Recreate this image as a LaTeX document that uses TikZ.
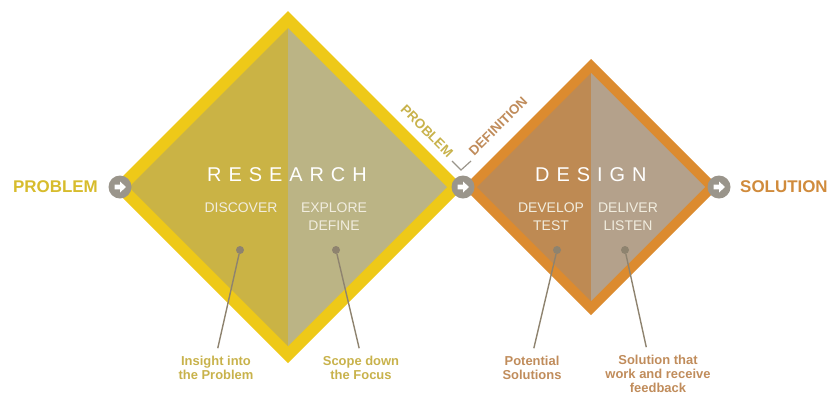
\documentclass[tikz,border=0pt]{standalone}
\usepackage{fontspec}
\setmainfont{Liberation Sans}
\usetikzlibrary{positioning}
\definecolor{resedge}{HTML}{EEC918}
\definecolor{resleft}{HTML}{CAB345}
\definecolor{resright}{HTML}{BBB485}
\definecolor{desedge}{HTML}{DC8B2F}
\definecolor{desleft}{HTML}{BE8A53}
\definecolor{desright}{HTML}{B4A18B}
\definecolor{btngray}{HTML}{9A958B}
\definecolor{pingray}{HTML}{8E836F}
\definecolor{restext}{HTML}{D7BC2D}
\definecolor{resnote}{HTML}{C8B24B}
\definecolor{destext}{HTML}{D08B3C}
\definecolor{desnote}{HTML}{C08C5B}
\definecolor{softwhite}{HTML}{F1EDDF}

\begin{document}
\begin{tikzpicture}[
		x=1bp, y=-1bp,
		phase/.style={text=white, inner sep=0, anchor=west,
			font=\fontsize{20}{24}\selectfont\addfontfeature{LetterSpace=35}},
		subtask/.style={text=softwhite, inner sep=0, anchor=north, align=center,
			font=\fontsize{14}{18}\selectfont},
		endlabel/.style={inner sep=0, font=\fontsize{17}{20}\selectfont\bfseries},
		note/.style={inner sep=0, anchor=north, align=center,
			font=\fontsize{13}{14.2}\selectfont\bfseries},
		sidelabel/.style={inner sep=0, font=\fontsize{13.5}{16}\selectfont\bfseries},
		gobtn/.style={circle, fill=btngray, minimum size=23bp, inner sep=0},
		pindot/.style={circle, fill=pingray, minimum size=8bp, inner sep=0},
		pin/.style={draw=pingray, line width=1.4bp, shorten >=8bp}
	]
		\useasboundingbox (0,0) rectangle (829,396);

		% two diamonds: edge, left half, right half
		\foreach \cx/\h/\w/\ce/\cl/\cr in {288/176/17/resedge/resleft/resright,
				591/128/14/desedge/desleft/desright}{
			\pgfmathsetmacro\hi{\h-\w}
			\fill[\ce] (\cx,187-\h) -- (\cx+\h,187) -- (\cx,187+\h) -- (\cx-\h,187) -- cycle;
			\fill[\cl] (\cx,187-\hi) -- (\cx,187+\hi) -- (\cx-\hi,187) -- cycle;
			\fill[\cr] (\cx,187-\hi) -- (\cx+\hi,187) -- (\cx,187+\hi) -- cycle;
		}

		\node[gobtn] (start) at (120,187) {};
		\node[gobtn] (handoff) at (463,187) {};
		\node[gobtn] (finish) at (719,187) {};
		\foreach \b in {start,handoff,finish}
			\fill[white, shift={(\b)}] (-5.5,-2.3) -- (0,-2.3) -- (0,-5.5) -- (6,0)
				-- (0,5.5) -- (0,2.3) -- (-5.5,2.3) -- cycle;

		\node[endlabel, text=restext, anchor=east] (problem) at (98,187) {PROBLEM};
		\node[endlabel, text=destext, anchor=west] (solution) at (740,187) {SOLUTION};

		\node[phase] (research) at (207,175) {RESEARCH};
		\node[phase] (design) at (535,175) {DESIGN};

		\node[subtask] (discover) at (241,203) {DISCOVER};
		\node[subtask] (explore) at (334,203) {EXPLORE\\DEFINE};
		\node[subtask] (develop) at (551,203) {DEVELOP\\TEST};
		\node[subtask] (deliver) at (628,203) {DELIVER\\LISTEN};

		\node[sidelabel, text=resnote, rotate=-45] (probside) at (427,131) {PROBLEM};
		\node[sidelabel, text=desnote, rotate=45] (defside) at (498,126) {DEFINITION};
		\draw[btngray, line width=1.2bp] (452,161) -- (461,170) -- (471,161);

		\node[pindot] (insight) at (240,250) {};
		\node[pindot] (scope) at (336,250) {};
		\node[pindot] (potential) at (557,250) {};
		\node[pindot] (feedback) at (625,250) {};

		\node[note, text=resnote] (insightnote) at (216,356) {Insight into\\the Problem};
		\node[note, text=resnote] (scopenote) at (361,356) {Scope down\\the Focus};
		\node[note, text=desnote] (potentialnote) at (532,356) {Potential\\Solutions};
		\node[note, text=desnote] (feedbacknote) at (658,355) {Solution that\\work and receive\\feedback};

		\foreach \a/\b in {insight/insightnote,scope/scopenote,potential/potentialnote}
			\draw[pin] (\a) -- (\b.north);
		\draw[pin] (feedback) -- ([xshift=-10bp]feedbacknote.north);
	\end{tikzpicture}
\end{document}
